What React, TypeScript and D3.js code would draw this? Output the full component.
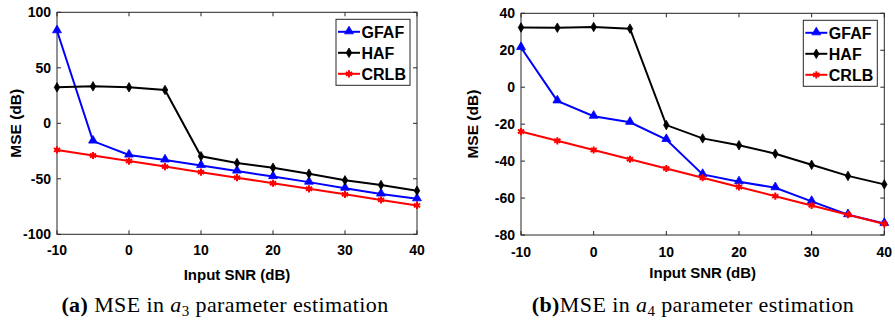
import React from "react";
import * as d3 from "d3";

const snr = [-10, -5, 0, 5, 10, 15, 20, 25, 30, 35, 40];
const xTicks = [-10, 0, 10, 20, 30, 40];

const a3Gfaf = [83.4, -16, -28.6, -33, -38, -43, -48, -53, -58.5, -63.7, -68];
const a3Haf = [32.4, 33.3, 32.4, 30, -29.7, -35.8, -40, -45.4, -51.4, -55.6, -60.7];
const a3Crlb = [-24, -29, -34, -39, -44, -49, -54, -59, -64, -69, -74];
const a3YTicks = [-100, -50, 0, 50, 100];

const a4Gfaf = [21.5, -7.4, -15.7, -19, -28.3, -47.2, -51.2, -54.4, -61.8, -69, -73.7];
const a4Haf = [32.3, 32.2, 32.6, 31.7, -20.5, -27.7, -31.4, -36, -42, -48, -52.6];
const a4Crlb = [-24, -29, -34, -39, -44, -49, -54, -59, -64, -69, -74];
const a4YTicks = [-80, -60, -40, -20, 0, 20, 40];

const seriesNames = ["GFAF", "HAF", "CRLB"];
const seriesColors = ["#0000ff", "#000000", "#ff0000"];

const AX = "#262626";
const SANS = "'Liberation Sans', Arial, sans-serif";
const SERIF = "'Liberation Serif', 'Times New Roman', serif";

function Marker({ kind, x, y, color }: { kind: number; x: number; y: number; color: string }) {
  if (kind === 0) {
    const p = d3.symbol().type(d3.symbolTriangle).size(34)();
    return <path d={p || ""} transform={`translate(${x},${y - 0.5})`} fill={color} stroke={color} strokeWidth={0.8} />;
  }
  if (kind === 1) {
    const p = d3.symbol().type(d3.symbolDiamond).size(26)();
    return <path d={p || ""} transform={`translate(${x},${y})`} fill={color} stroke={color} strokeWidth={0.8} />;
  }
  const p = d3.symbol().type(d3.symbolAsterisk).size(36)();
  return <path d={p || ""} transform={`translate(${x},${y})`} fill="none" stroke={color} strokeWidth={2} />;
}

function Panel({
  left, right, top, bottom, yDomain, yTicks, series, xLabelY, tickLabelY, yLabelX,
}: {
  left: number; right: number; top: number; bottom: number; yDomain: [number, number];
  yTicks: number[]; series: number[][]; xLabelY: number; tickLabelY: number; yLabelX: number;
}) {
  const x = d3.scaleLinear().domain([-10, 40]).range([left, right]);
  const y = d3.scaleLinear().domain(yDomain).range([bottom, top]);
  const line = d3.line<number>().x((_, i) => x(snr[i])).y((d) => y(d));
  const lx = right - 81;
  const ly = top + 7;
  return (
    <g>
      <rect x={left} y={top} width={right - left} height={bottom - top} fill="white" stroke={AX} strokeWidth={1} />
      {xTicks.map((t) => (
        <g key={"xt" + t}>
          <line x1={x(t)} x2={x(t)} y1={bottom} y2={bottom - 4} stroke={AX} />
          <line x1={x(t)} x2={x(t)} y1={top} y2={top + 4} stroke={AX} />
          <text x={x(t)} y={tickLabelY} textAnchor="middle" fontFamily={SANS} fontWeight="bold" fontSize={14} fill="#000">{t}</text>
        </g>
      ))}
      {yTicks.map((t) => (
        <g key={"yt" + t}>
          <line x1={left} x2={left + 4} y1={y(t)} y2={y(t)} stroke={AX} />
          <line x1={right} x2={right - 4} y1={y(t)} y2={y(t)} stroke={AX} />
          <text x={left - 6} y={y(t) + 5} textAnchor="end" fontFamily={SANS} fontWeight="bold" fontSize={14} fill="#000">{t}</text>
        </g>
      ))}
      {series.map((s, k) => (
        <g key={"s" + k}>
          <path d={line(s) || ""} fill="none" stroke={seriesColors[k]} strokeWidth={2} />
          {s.map((v, i) => (
            <Marker key={i} kind={k} x={x(snr[i])} y={y(v)} color={seriesColors[k]} />
          ))}
        </g>
      ))}
      <rect x={lx} y={ly} width={74} height={66} fill="white" stroke={AX} strokeWidth={1} />
      {seriesNames.map((n, k) => {
        const yy = ly + 12.5 + k * 21;
        return (
          <g key={n}>
            <line x1={lx + 2} x2={lx + 24} y1={yy} y2={yy} stroke={seriesColors[k]} strokeWidth={2} />
            <Marker kind={k} x={lx + 13} y={yy} color={seriesColors[k]} />
            <text x={lx + 25.5} y={yy + 6} fontFamily={SANS} fontWeight="bold" fontSize={16} fill="#000">{n}</text>
          </g>
        );
      })}
      <text x={(left + right) / 2} y={xLabelY} textAnchor="middle" fontFamily={SANS} fontWeight="bold" fontSize={15} fill="#000">Input SNR (dB)</text>
      <text transform={`translate(${yLabelX},${(top + bottom) / 2}) rotate(-90)`} textAnchor="middle" fontFamily={SANS} fontWeight="bold" fontSize={15.5} fill="#000">MSE (dB)</text>
    </g>
  );
}

export default function App() {
  return (
    <svg width={895} height={324} style={{ position: "absolute", left: 0, top: 0, background: "white" }}>
      <Panel left={57} right={417} top={12.3} bottom={234.3} yDomain={[-100, 100]} yTicks={a3YTicks}
        series={[a3Gfaf, a3Haf, a3Crlb]} xLabelY={280} tickLabelY={255} yLabelX={20.5} />
      <Panel left={521} right={884.3} top={13.3} bottom={235} yDomain={[-80, 40]} yTicks={a4YTicks}
        series={[a4Gfaf, a4Haf, a4Crlb]} xLabelY={278} tickLabelY={257} yLabelX={478} />
      <text x={225} y={312} textAnchor="middle" fontFamily={SERIF} fontSize={22} letterSpacing={0.4} fill="#000">
        <tspan fontWeight="bold">(a)</tspan> MSE in <tspan fontStyle="italic">a</tspan><tspan fontSize={15} dy={4}>3</tspan><tspan dy={-4}> parameter estimation</tspan>
      </text>
      <text x={693} y={312} textAnchor="middle" fontFamily={SERIF} fontSize={22} letterSpacing={0.4} fill="#000">
        <tspan fontWeight="bold">(b)</tspan>MSE in <tspan fontStyle="italic">a</tspan><tspan fontSize={15} dy={4}>4</tspan><tspan dy={-4}> parameter estimation</tspan>
      </text>
    </svg>
  );
}
